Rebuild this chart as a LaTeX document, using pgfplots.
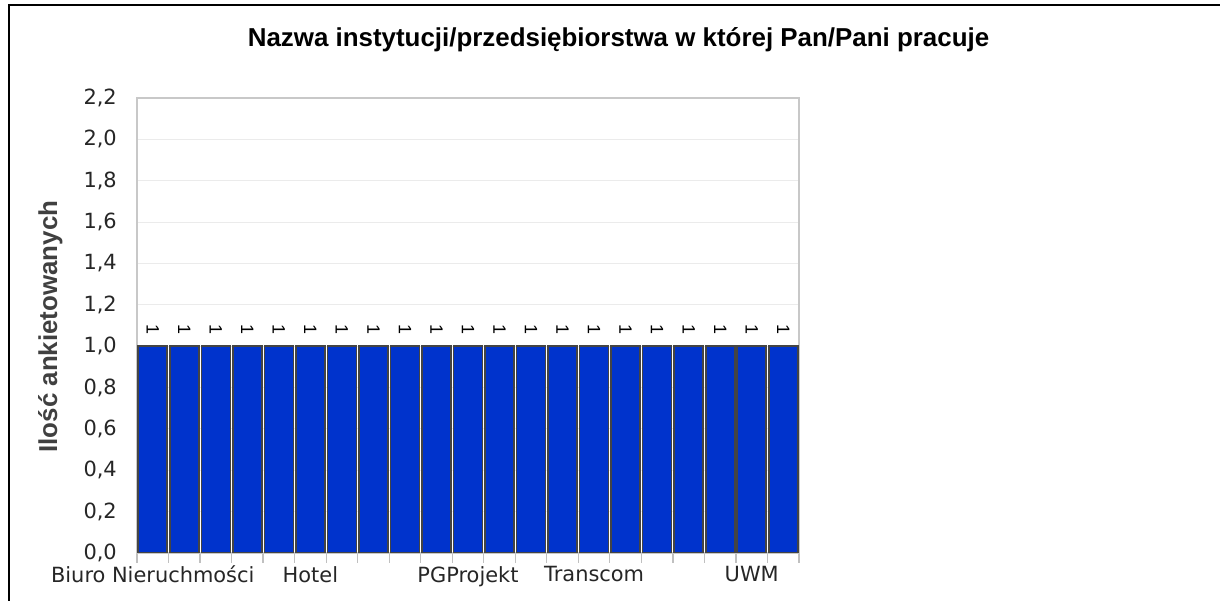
\documentclass[border=0pt]{standalone}
\usepackage{fontspec}
\usepackage{pgfplots}
\pgfplotsset{compat=1.18}
\setmainfont{DejaVu Sans}
\newfontfamily\lsans{Liberation Sans}
\definecolor{barblue}{RGB}{0,51,204}
\definecolor{bardark}{RGB}{68,68,68}
\definecolor{gridgray}{RGB}{235,235,235}
\definecolor{boxgray}{RGB}{200,200,200}
\definecolor{labgray}{RGB}{64,64,64}
\definecolor{tickgray}{RGB}{192,192,192}
\begin{document}
\begin{tikzpicture}[x=1bp,y=1bp]
\path[use as bounding box, fill=white] (0,0) rectangle (1220,601);
\begin{axis}[
  at={(137bp,48bp)}, anchor=south west,
  width=662bp, height=455bp, scale only axis,
  xmin=-0.5, xmax=20.5, ymin=0, ymax=2.2,
  ytick={0,0.2,0.4,0.6,0.8,1.0,1.2,1.4,1.6,1.8,2.0,2.2},
  xtick={0,...,20},
  xticklabels={Biuro Nieruchmości,,,,,Hotel,,,,,PGProjekt,,,,Transcom,,,,,UWM,},
  minor xtick={-0.5,0.5,1.5,2.5,3.5,4.5,5.5,6.5,7.5,8.5,9.5,10.5,11.5,12.5,13.5,14.5,15.5,16.5,17.5,18.5,19.5,20.5},
  major tick length=0pt, minor tick length=10bp,
  tick align=outside, tick pos=left,
  minor tick style={tickgray, line width=1.2bp},
  ytick style={draw=none},
  axis line style={boxgray, line width=1.3bp},
  ymajorgrids, grid style={gridgray, line width=1bp},
  /pgf/number format/assume math mode=true,
  xticklabel style={font=\fontsize{21}{24}\selectfont, text=black!85, inner sep=0pt, anchor=north, yshift=-13bp},
  yticklabel style={font=\fontsize{21}{24}\selectfont, text=black!85, inner sep=0pt, anchor=east, xshift=-20bp,
    /pgf/number format/fixed, /pgf/number format/fixed zerofill, /pgf/number format/precision=1,
    /pgf/number format/use comma, /pgf/number format/assume math mode=true},
]
\addplot[ybar, bar width=29bp, fill=barblue, draw=bardark, line width=1.6bp,
  nodes near coords={\pgfmathprintnumber[fixed,precision=0]{\pgfplotspointmeta}},
  every node near coord/.style={font=\lsans\fontsize{18}{18}\selectfont, text=black, inner sep=0pt, anchor=east, yshift=11bp, rotate=-90}]
  coordinates {(0,1) (1,1) (2,1) (3,1) (4,1) (5,1) (6,1) (7,1) (8,1) (9,1) (10,1)
               (11,1) (12,1) (13,1) (14,1) (15,1) (16,1) (17,1) (18,1) (19,1) (20,1)};
\end{axis}
\draw[black, line width=2.2bp] (8.6,0) -- (8.6,596) -- (1220,596);
\node[anchor=base, inner sep=0pt, font=\lsans\bfseries\fontsize{26}{30}\selectfont] at (618.5,554.3) {Nazwa instytucji/przedsiębiorstwa w której Pan/Pani pracuje};
\node[anchor=base, inner sep=0pt, rotate=90, text=labgray, font=\lsans\bfseries\fontsize{26}{30}\selectfont] at (57,274.5) {Ilość ankietowanych};
\end{tikzpicture}
\end{document}
